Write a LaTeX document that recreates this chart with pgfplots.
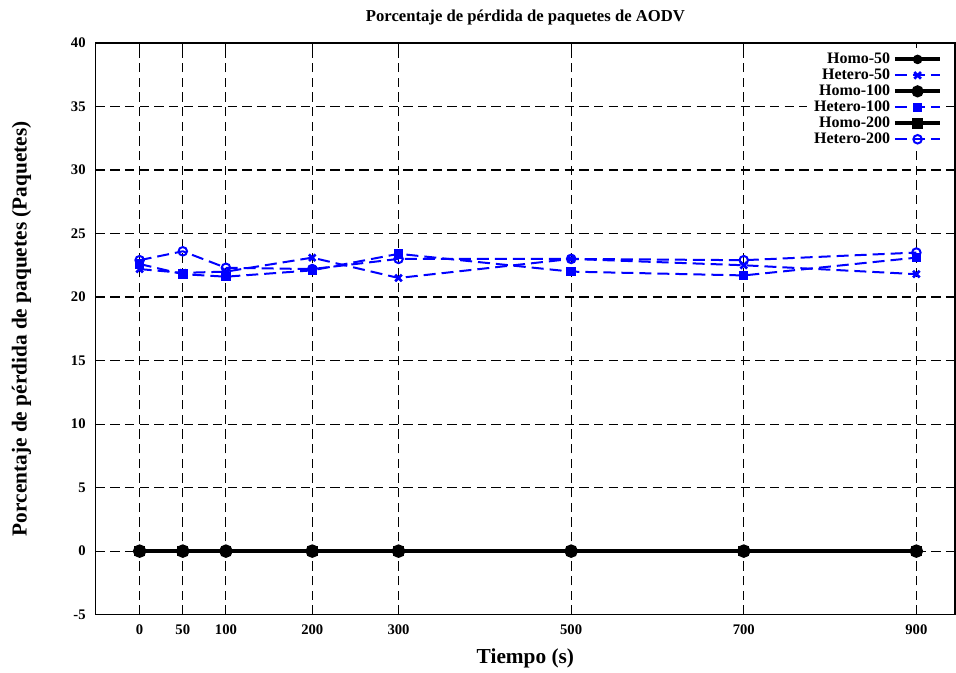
\documentclass[border=0pt]{standalone}
\usepackage{fontspec}
\setmainfont{Liberation Serif}
\usepackage{pgfplots}
\pgfplotsset{compat=1.18}
\definecolor{pblue}{RGB}{0,0,255}
\begin{document}
\begin{tikzpicture}
\begin{axis}[
  scale only axis, width=645pt, height=429pt,
  xmin=-51, xmax=945, ymin=-5, ymax=40,
  xtick={0,50,100,200,300,500,700,900},
  ytick={-5,0,5,10,15,20,25,30,35,40},
  grid=major,
  major grid style={black, dash pattern=on 7pt off 4pt, line width=0.8pt},
  tick style={black, line width=0.8pt},
  major tick length=6pt,
  tick align=inside,
  axis line style={black, line width=1.2pt},
  tick label style={font=\fontsize{11}{13}\selectfont\bfseries},
  yticklabel style={xshift=-4pt},
  xticklabel style={yshift=-4pt},
  /pgf/number format/assume math mode=true,
  xlabel={Tiempo (s)},
  ylabel={Porcentaje de pérdida de paquetes (Paquetes)},
  ylabel shift=23pt,
  xlabel shift=3.5pt,
  label style={font=\fontsize{16}{19}\selectfont\bfseries},
  title={Porcentaje de pérdida de paquetes de AODV},
  title style={font=\fontsize{12.5}{14}\selectfont\bfseries, yshift=4pt},
  legend style={draw=none, fill=white, at={(0.99,0.992)}, anchor=north east,
    font=\fontsize{12}{14}\selectfont\bfseries, row sep=-1.5pt},
  legend cell align=right,
  legend plot pos=right,
  legend image code/.code={\draw[mark repeat=2,mark phase=2,#1] plot coordinates {(0cm,0cm) (0.6cm,0cm) (1.2cm,0cm)};},
]
\addplot[black, line width=3pt, mark=*, mark size=2pt, mark options={solid}] coordinates {
(0,0)(50,0)(100,0)(200,0)(300,0)(500,0)(700,0)(900,0)};
\addlegendentry{Homo-50}
\addplot[pblue, line width=1.5pt, dash pattern=on 9pt off 4.5pt, mark=x, mark size=3.5pt, mark options={solid, line width=2pt}] coordinates {
(0,22.2)(50,21.9)(100,22.0)(200,23.1)(300,21.5)(500,23.0)(700,22.5)(900,21.8)};
\addlegendentry{Hetero-50}
\addplot[black, line width=3pt, mark=*, mark size=3pt, mark options={solid}] coordinates {
(0,0)(50,0)(100,0)(200,0)(300,0)(500,0)(700,0)(900,0)};
\addlegendentry{Homo-100}
\addplot[pblue, line width=1.5pt, dash pattern=on 9pt off 4.5pt, mark=square*, mark size=2.8pt, mark options={solid}] coordinates {
(0,22.6)(50,21.8)(100,21.6)(200,22.1)(300,23.4)(500,22.0)(700,21.7)(900,23.1)};
\addlegendentry{Hetero-100}
\addplot[black, line width=3pt, mark=square*, mark size=2.5pt, mark options={solid}] coordinates {
(0,0)(50,0)(100,0)(200,0)(300,0)(500,0)(700,0)(900,0)};
\addlegendentry{Homo-200}
\addplot[pblue, line width=1.5pt, dash pattern=on 9pt off 4.5pt, mark=o, mark size=3.2pt, mark options={solid, line width=1.5pt}] coordinates {
(0,22.9)(50,23.6)(100,22.3)(200,22.2)(300,23.0)(500,23.0)(700,22.9)(900,23.5)};
\addlegendentry{Hetero-200}
\addplot[black, line width=3pt, mark=*, mark size=3.5pt, forget plot] coordinates {
(0,0)(50,0)(100,0)(200,0)(300,0)(500,0)(700,0)(900,0)};
\end{axis}
\path ([xshift=-5.5pt,yshift=4pt]current bounding box.north west);
\end{tikzpicture}
\end{document}
